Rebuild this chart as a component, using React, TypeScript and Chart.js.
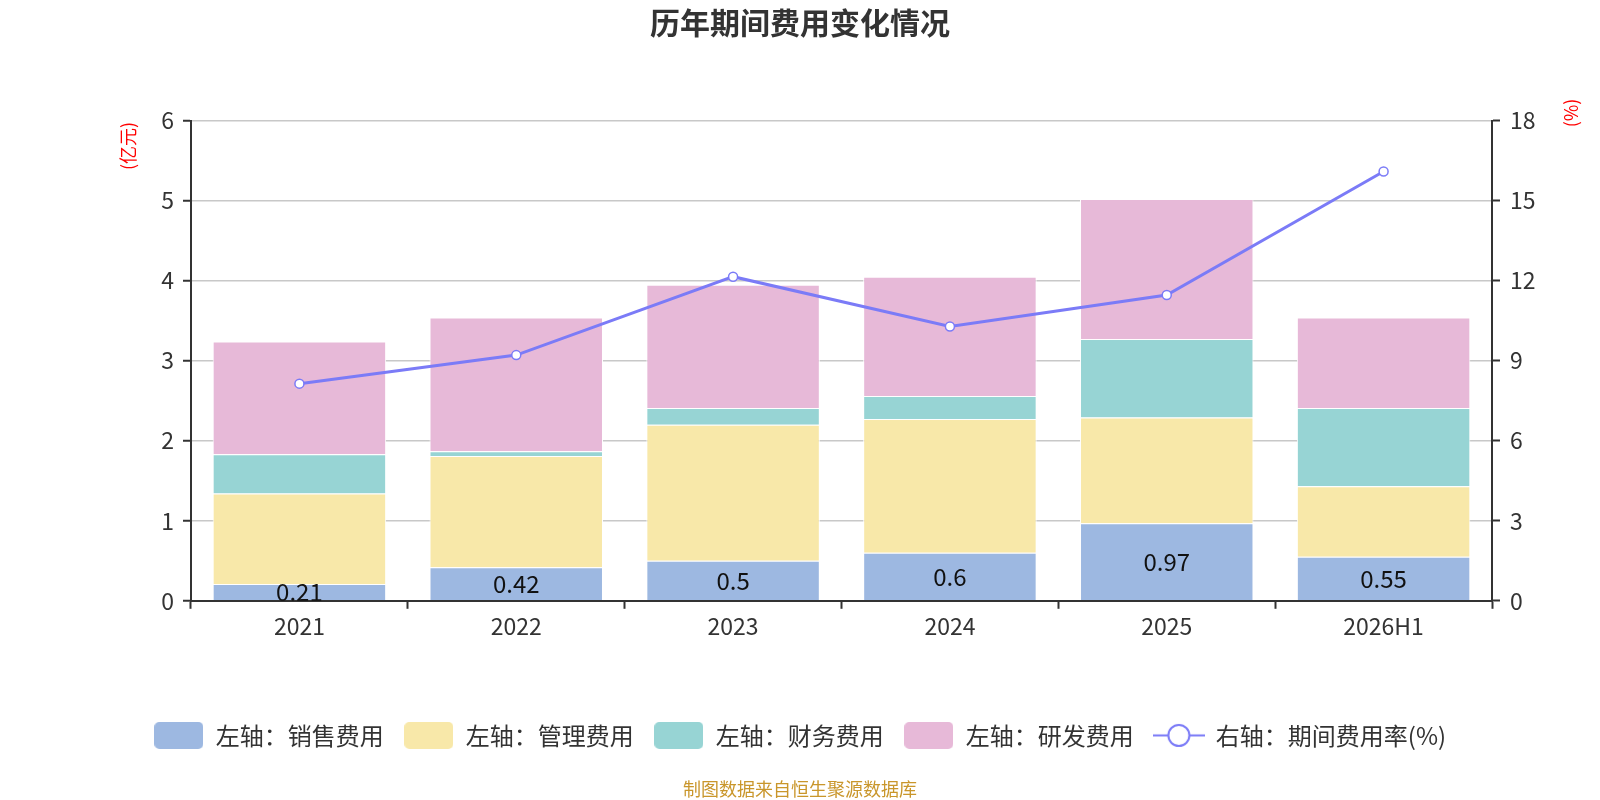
import React, { useEffect, useRef } from 'react';
import { Chart, registerables } from 'chart.js';

Chart.register(...registerables);

// 数据
const categories = ['2021', '2022', '2023', '2024', '2025', '2026H1'];
const salesExpense = [0.21, 0.42, 0.5, 0.6, 0.97, 0.55];
const adminExpense = [1.13, 1.39, 1.7, 1.67, 1.32, 0.88];
const financeExpense = [0.49, 0.06, 0.21, 0.29, 0.98, 0.98];
const rdExpense = [1.41, 1.67, 1.54, 1.49, 1.75, 1.13];
const expenseRate = [8.14, 9.21, 12.15, 10.28, 11.46, 16.09];
const leftTicks = [0, 1, 2, 3, 4, 5, 6];
const rightTicks = [0, 3, 6, 9, 12, 15, 18];

const FONT = '"Noto Sans CJK SC", "Noto Sans", sans-serif';
const LINE_COLOR = '#7b7bf7';

// 图例用的小图
function makeBox(color: string) {
  const c = document.createElement('canvas');
  c.width = 49;
  c.height = 27;
  const ctx = c.getContext('2d')!;
  ctx.fillStyle = color;
  ctx.beginPath();
  ctx.roundRect(0, 0, 49, 27, 5);
  ctx.fill();
  return c;
}

function makeLineMarker() {
  const c = document.createElement('canvas');
  c.width = 52;
  c.height = 27;
  const ctx = c.getContext('2d')!;
  ctx.strokeStyle = LINE_COLOR;
  ctx.lineWidth = 2;
  ctx.beginPath();
  ctx.moveTo(0, 13.5);
  ctx.lineTo(52, 13.5);
  ctx.stroke();
  ctx.fillStyle = '#fff';
  ctx.beginPath();
  ctx.arc(26, 13.5, 10.5, 0, Math.PI * 2);
  ctx.fill();
  ctx.stroke();
  return c;
}

// 销售费用数值标签
const barLabelPlugin = {
  id: 'barLabels',
  afterDatasetsDraw(chart: any) {
    const { ctx, chartArea } = chart;
    const meta = chart.getDatasetMeta(1);
    ctx.save();
    ctx.font = `24px ${FONT}`;
    ctx.fillStyle = '#111';
    ctx.textAlign = 'center';
    ctx.textBaseline = 'middle';
    meta.data.forEach((bar: any, i: number) => {
      ctx.save();
      ctx.beginPath();
      ctx.rect(chartArea.left, bar.y, chartArea.width, chartArea.bottom - bar.y);
      ctx.clip();
      ctx.fillText(String(salesExpense[i]), bar.x, (bar.y + bar.base) / 2);
      ctx.restore();
    });
    ctx.restore();
  },
};

// 坐标轴单位
const unitPlugin = {
  id: 'units',
  afterDraw(chart: any) {
    const { ctx } = chart;
    const drawUnit = (text: string, x: number, y: number) => {
      ctx.save();
      ctx.font = `18px ${FONT}`;
      ctx.fillStyle = '#ff0000';
      ctx.textAlign = 'center';
      ctx.textBaseline = 'middle';
      ctx.translate(x, y);
      ctx.rotate(-Math.PI / 2);
      ctx.fillText(text, 0, 0);
      ctx.restore();
    };
    drawUnit('(亿元)', 128, 146);
    drawUnit('(%)', 1571, 113);
  },
};

const App: React.FC = () => {
  const chartRef = useRef<HTMLCanvasElement>(null);
  const chartInstance = useRef<Chart | null>(null);

  useEffect(() => {
    if (!chartRef.current) return;
    if (chartInstance.current) chartInstance.current.destroy();

    const colors = ['#9db8e1', '#f8e8a9', '#97d4d4', '#e7b9d8'];
    const markers = [...colors.map(makeBox), makeLineMarker()];

    chartInstance.current = new Chart(chartRef.current, {
      type: 'bar',
      data: {
        labels: categories,
        datasets: [
          {
            type: 'line',
            label: '右轴：期间费用率(%)',
            data: expenseRate,
            yAxisID: 'y1',
            borderColor: LINE_COLOR,
            backgroundColor: '#fff',
            borderWidth: 3,
            pointRadius: 4.5,
            pointBorderWidth: 1.5,
            pointBackgroundColor: '#fff',
            pointBorderColor: LINE_COLOR,
            tension: 0,
            order: 0,
          } as any,
          { label: '左轴：销售费用', data: salesExpense, backgroundColor: colors[0], borderColor: '#fff', borderWidth: 1, yAxisID: 'y', order: 1 },
          { label: '左轴：管理费用', data: adminExpense, backgroundColor: colors[1], borderColor: '#fff', borderWidth: 1, yAxisID: 'y', order: 1 },
          { label: '左轴：财务费用', data: financeExpense, backgroundColor: colors[2], borderColor: '#fff', borderWidth: 1, yAxisID: 'y', order: 1 },
          { label: '左轴：研发费用', data: rdExpense, backgroundColor: colors[3], borderColor: '#fff', borderWidth: 1, yAxisID: 'y', order: 1 },
        ],
      },
      options: {
        animation: false,
        responsive: false,
        datasets: { bar: { barPercentage: 0.8, categoryPercentage: 1 } },
        layout: { padding: 0 },
        scales: {
          x: {
            stacked: true,
            afterFit: (axis: any) => {
              axis.height += 59;
            },
            grid: { display: true, drawOnChartArea: false, offset: true, tickLength: 8, tickColor: '#333', tickWidth: 2 },
            border: { color: '#333', width: 2 },
            ticks: { color: '#333', font: { size: 23, family: FONT }, padding: 4 },
          },
          y: {
            stacked: true,
            position: 'left',
            min: 0,
            max: 6,
            afterBuildTicks: (axis: any) => {
              axis.ticks = leftTicks.map((v) => ({ value: v }));
            },
            afterFit: (axis: any) => {
              axis.width = 191;
            },
            grid: { color: '#c8c8c8', lineWidth: 1.5, tickLength: 8, tickColor: '#333', tickWidth: 2 },
            border: { color: '#333', width: 2 },
            ticks: { color: '#333', font: { size: 23, family: FONT }, padding: 9 },
          },
          y1: {
            position: 'right',
            min: 0,
            max: 18,
            afterBuildTicks: (axis: any) => {
              axis.ticks = rightTicks.map((v) => ({ value: v }));
            },
            afterFit: (axis: any) => {
              axis.width = 108;
            },
            grid: { drawOnChartArea: false, tickLength: 8, tickColor: '#333', tickWidth: 2 },
            border: { color: '#333', width: 2 },
            ticks: { color: '#333', font: { size: 23, family: FONT }, padding: 10 },
          },
        },
        plugins: {
          title: {
            display: true,
            text: '历年期间费用变化情况',
            color: '#333',
            font: { size: 30, weight: 'bold', family: FONT },
            padding: { top: 5, bottom: 79.6 },
          },
          subtitle: {
            display: true,
            position: 'bottom',
            text: '制图数据来自恒生聚源数据库',
            color: '#c9962b',
            font: { size: 18, family: FONT },
            padding: { top: 21, bottom: 0 },
          },
          legend: {
            position: 'bottom',
            labels: {
              usePointStyle: true,
              pointStyleWidth: 50,
              boxHeight: 27,
              padding: 20,
              color: '#333',
              font: { size: 24, family: FONT },
              generateLabels: (chart: any) => {
                const order = [1, 2, 3, 4, 0];
                return order.map((di, i) => ({
                  text: chart.data.datasets[di].label,
                  datasetIndex: di,
                  pointStyle: markers[i],
                  fillStyle: 'transparent',
                  strokeStyle: 'transparent',
                  lineWidth: 0,
                  hidden: false,
                  fontColor: '#333',
                }));
              },
            },
          },
          tooltip: { enabled: false },
        },
      },
      plugins: [barLabelPlugin, unitPlugin],
    });

    return () => {
      if (chartInstance.current) {
        chartInstance.current.destroy();
        chartInstance.current = null;
      }
    };
  }, []);

  return (
    <div style={{ position: 'fixed', left: 0, top: 0, width: 1600, height: 800, background: '#fff' }}>
      <canvas ref={chartRef} width={1600} height={800} style={{ width: 1600, height: 800 }} />
    </div>
  );
};

export default App;
